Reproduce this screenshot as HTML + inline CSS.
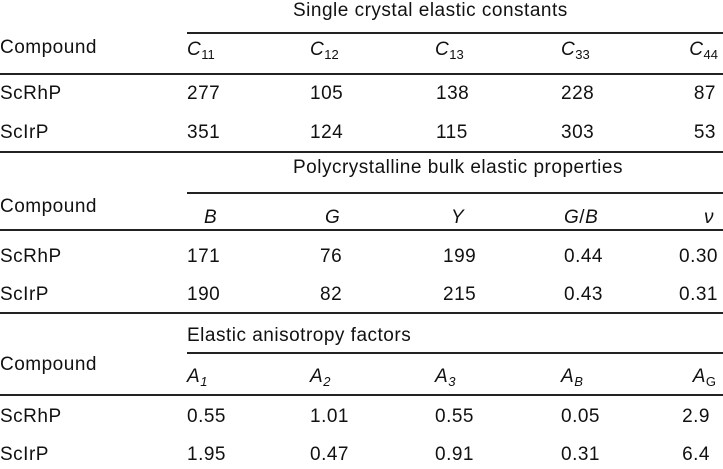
<!DOCTYPE html>
<html><head><meta charset="utf-8"><style>
body{margin:0;background:#fff;}
#c{position:relative;width:723px;height:469px;overflow:hidden;font-family:"Liberation Sans",sans-serif;font-size:19px;letter-spacing:0.5px;color:#111;}
.t{position:absolute;line-height:20px;white-space:nowrap;}
.r{text-align:right;}
.l{position:absolute;height:2px;background:#222;}
i{font-style:italic;}
sub{font-size:13px;vertical-align:-4px;line-height:0;font-style:normal;letter-spacing:0;}
sub i{font-style:italic;}
</style></head><body><div id="c">
<div class="t" style="left:293px;top:1px">Single crystal elastic constants</div>
<div class="l" style="left:187px;top:32px;width:536px"></div>
<div class="t" style="left:0;top:38px">Compound</div>
<div class="t" style="left:187px;top:40px"><i>C</i><sub>11</sub></div>
<div class="t" style="left:310px;top:40px"><i>C</i><sub>12</sub></div>
<div class="t" style="left:435px;top:40px"><i>C</i><sub>13</sub></div>
<div class="t" style="left:561px;top:40px"><i>C</i><sub>33</sub></div>
<div class="t r" style="right:5px;top:40px"><i>C</i><sub>44</sub></div>
<div class="l" style="left:0;top:73px;width:723px"></div>
<div class="t" style="left:0;top:84px">ScRhP</div>
<div class="t" style="left:187px;top:84px">277</div>
<div class="t" style="left:310px;top:84px">105</div>
<div class="t" style="left:436px;top:84px">138</div>
<div class="t" style="left:561px;top:84px">228</div>
<div class="t r" style="right:7px;top:84px">87</div>
<div class="t" style="left:0;top:123px">ScIrP</div>
<div class="t" style="left:187px;top:123px">351</div>
<div class="t" style="left:310px;top:123px">124</div>
<div class="t" style="left:436px;top:123px">115</div>
<div class="t" style="left:561px;top:123px">303</div>
<div class="t r" style="right:7px;top:123px">53</div>
<div class="l" style="left:0;top:151px;width:723px"></div>
<div class="t" style="left:293px;top:158px">Polycrystalline bulk elastic properties</div>
<div class="l" style="left:187px;top:192px;width:536px"></div>
<div class="t" style="left:0;top:197px">Compound</div>
<div class="t" style="left:204px;top:208px"><i>B</i></div>
<div class="t" style="left:325px;top:208px"><i>G</i></div>
<div class="t" style="left:451px;top:208px"><i>Y</i></div>
<div class="t" style="left:564px;top:208px"><i>G</i>/<i>B</i></div>
<div class="t r" style="right:9px;top:208px"><i>ν</i></div>
<div class="l" style="left:0;top:229px;width:723px"></div>
<div class="t" style="left:0;top:247px">ScRhP</div>
<div class="t" style="left:187px;top:247px">171</div>
<div class="t" style="left:320px;top:247px">76</div>
<div class="t" style="left:443px;top:247px">199</div>
<div class="t" style="left:564px;top:247px">0.44</div>
<div class="t r" style="right:5px;top:247px">0.30</div>
<div class="t" style="left:0;top:285px">ScIrP</div>
<div class="t" style="left:187px;top:285px">190</div>
<div class="t" style="left:320px;top:285px">82</div>
<div class="t" style="left:443px;top:285px">215</div>
<div class="t" style="left:564px;top:285px">0.43</div>
<div class="t r" style="right:5px;top:285px">0.31</div>
<div class="l" style="left:0;top:312px;width:723px"></div>
<div class="t" style="left:187px;top:326px">Elastic anisotropy factors</div>
<div class="l" style="left:187px;top:352px;width:536px"></div>
<div class="t" style="left:0;top:355px">Compound</div>
<div class="t" style="left:187px;top:367px"><i>A</i><sub><i>1</i></sub></div>
<div class="t" style="left:310px;top:367px"><i>A</i><sub><i>2</i></sub></div>
<div class="t" style="left:435px;top:367px"><i>A</i><sub><i>3</i></sub></div>
<div class="t" style="left:561px;top:367px"><i>A</i><sub><i>B</i></sub></div>
<div class="t r" style="right:7px;top:367px"><i>A</i><sub>G</sub></div>
<div class="l" style="left:0;top:394px;width:723px"></div>
<div class="t" style="left:0;top:407px">ScRhP</div>
<div class="t" style="left:187px;top:407px">0.55</div>
<div class="t" style="left:310px;top:407px">1.01</div>
<div class="t" style="left:435px;top:407px">0.55</div>
<div class="t" style="left:561px;top:407px">0.05</div>
<div class="t r" style="right:13px;top:407px">2.9</div>
<div class="t" style="left:0;top:445px">ScIrP</div>
<div class="t" style="left:187px;top:445px">1.95</div>
<div class="t" style="left:310px;top:445px">0.47</div>
<div class="t" style="left:435px;top:445px">0.91</div>
<div class="t" style="left:561px;top:445px">0.31</div>
<div class="t r" style="right:13px;top:445px">6.4</div>
</div></body></html>
